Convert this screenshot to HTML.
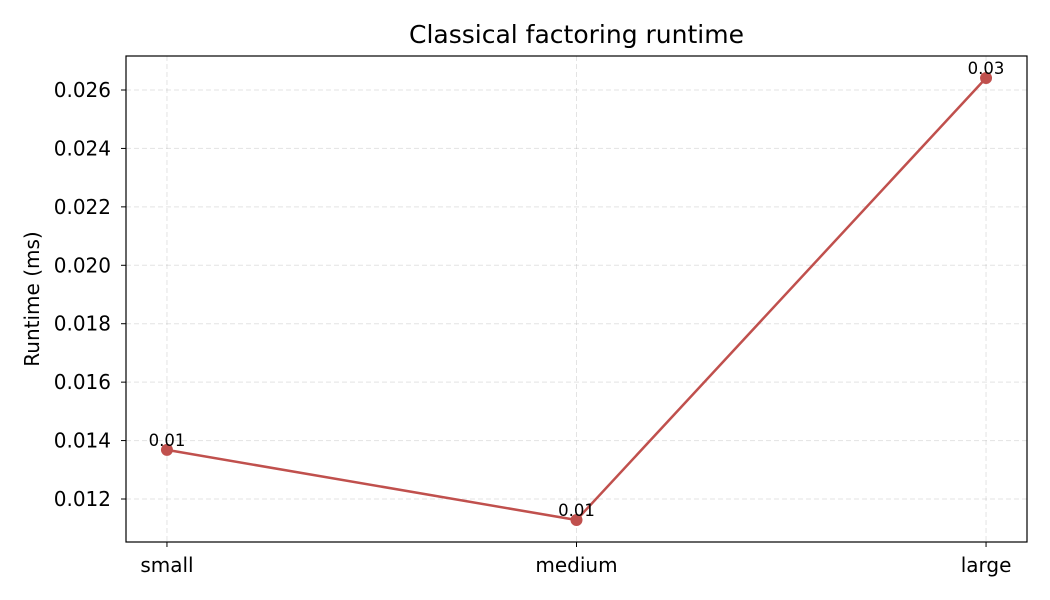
<!DOCTYPE html>
<html><head><meta charset="utf-8"><style>
html,body{margin:0;padding:0;background:#fff;}
svg{display:block;font-family:"DejaVu Sans","Liberation Sans",sans-serif;}
</style></head><body>
<svg id="chart" width="1050" height="600" viewBox="0 0 1050 600"></svg>
<script>
const categories = ["small","medium","large"];
const runtimes = [0.01368, 0.01128, 0.02641];
const valueLabels = ["0.01","0.01","0.03"];
const yTicks = [0.012,0.014,0.016,0.018,0.020,0.022,0.024,0.026];
const yTickLabels = ["0.012","0.014","0.016","0.018","0.020","0.022","0.024","0.026"];

const L=126,R=1027,T=56,B=542;
const yMin=0.010528,yMax=0.027164,xMin=-0.1,xMax=2.1;
const sx=i=>L+(i-xMin)/(xMax-xMin)*(R-L);
const sy=v=>B-(v-yMin)/(yMax-yMin)*(B-T);
const svg=document.getElementById('chart');
const NS='http://www.w3.org/2000/svg';
function mk(tag,attrs,parent){const e=document.createElementNS(NS,tag);for(const k in attrs)e.setAttribute(k,attrs[k]);(parent||svg).appendChild(e);return e;}

yTicks.forEach((v,i)=>{
  const g=mk('line',{x1:L,x2:R,y1:sy(v),y2:sy(v),stroke:'#b0b0b0','stroke-opacity':0.35,'stroke-dasharray':'5,3','stroke-width':1});
  
  
  const tk=mk('line',{x1:L-5,x2:L,y1:sy(v),y2:sy(v),stroke:'#000','stroke-width':1});
  
  
  const t=mk('text',{x:L-15,y:sy(v)+7,'text-anchor':'end','font-size':20,fill:'#000'});
  t.textContent=yTickLabels[i];
  
  
});
categories.forEach((c,i)=>{
  const g=mk('line',{x1:sx(i),x2:sx(i),y1:T,y2:B,stroke:'#b0b0b0','stroke-opacity':0.35,'stroke-dasharray':'5,3','stroke-width':1});
  
  
  const tk=mk('line',{x1:sx(i),x2:sx(i),y1:B,y2:B+5,stroke:'#000','stroke-width':1});
  
  
  const t=mk('text',{x:sx(i),y:B+30,'text-anchor':'middle','font-size':20,fill:'#000'});
  t.textContent=c;
  
  
});
const pl=mk('polyline',{points:runtimes.map((v,i)=>sx(i)+','+sy(v)).join(' '),fill:'none',stroke:'#c0504d','stroke-width':2.5});


runtimes.forEach((v,i)=>{
  const c=mk('circle',{cx:sx(i),cy:sy(v),r:6,fill:'#c0504d'});
  
  
  const t=mk('text',{x:sx(i),y:sy(v)-4,'text-anchor':'middle','font-size':16.5,fill:'#000'});
  t.textContent=valueLabels[i];
  
  
});
const f=mk('rect',{x:L,y:T,width:R-L,height:B-T,fill:'none',stroke:'#000','stroke-width':1.2});


const title=mk('text',{x:(L+R)/2,y:43,'text-anchor':'middle','font-size':25,fill:'#000'});
title.textContent='Classical factoring runtime';


const yl=mk('text',{x:0,y:0,'text-anchor':'middle','font-size':20,fill:'#000',transform:'translate(39,'+((T+B)/2)+') rotate(-90)'});
yl.textContent='Runtime (ms)';


</script>
</body></html>
